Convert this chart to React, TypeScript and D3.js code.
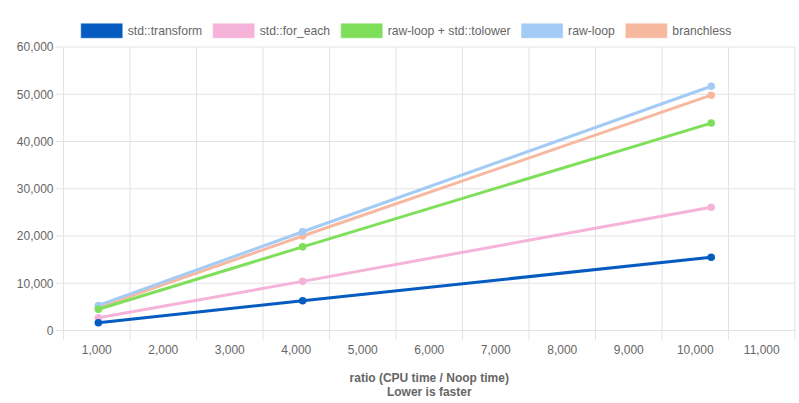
import React, { useRef, useEffect } from 'react';
import { select, scaleLinear, line, range, format } from 'd3';

const sizes = [1024, 4096, 10240];
const seriesNames = ['std::transform', 'std::for_each', 'raw-loop + std::tolower', 'raw-loop', 'branchless'];
const seriesColors = ['#055bbf', '#f5b3da', '#7fdf5b', '#a3cbf4', '#f7b8a0'];
const transformValues = [1650, 6300, 15500];
const forEachValues = [2700, 10400, 26100];
const tolowerValues = [4500, 17700, 43900];
const rawLoopValues = [5300, 20900, 51700];
const branchlessValues = [4900, 20000, 49800];
const seriesValues = [transformValues, forEachValues, tolowerValues, rawLoopValues, branchlessValues];
const xTicks = range(1000, 11001, 1000);
const yTicks = range(0, 60001, 10000);

const W = 799;
const H = 403;
const FONT = '"Liberation Sans", Arial, Helvetica, sans-serif';

const App: React.FC = () => {
  const svgRef = useRef<SVGSVGElement | null>(null);

  useEffect(() => {
    if (!svgRef.current) return;
    const svg = select(svgRef.current);
    svg.selectAll('*').remove();

    const left = 63.5, right = 795, top = 47, bottom = 330.5;
    const x = scaleLinear().domain([500, 11500]).range([left, right]);
    const y = scaleLinear().domain([0, 60000]).range([bottom, top]);
    const grid = '#e3e3e3';
    const fmt = format(',');

    // grid
    const g = svg.append('g');
    g.selectAll('line.vg')
      .data(range(500, 11501, 1000))
      .join('line')
      .attr('x1', d => x(d)).attr('x2', d => x(d))
      .attr('y1', top).attr('y2', bottom + 9.5)
      .attr('stroke', grid).attr('stroke-width', 1);
    g.selectAll('line.hg')
      .data(yTicks)
      .join('line')
      .attr('x1', left - 7.5).attr('x2', right)
      .attr('y1', d => y(d)).attr('y2', d => y(d))
      .attr('stroke', grid).attr('stroke-width', 1);

    // y labels
    g.selectAll('text.yl')
      .data(yTicks)
      .join('text')
      .attr('x', 53.5).attr('y', d => y(d) + 4.3)
      .attr('text-anchor', 'end')
      .attr('font-family', FONT).attr('font-size', 12).attr('fill', '#666')
      .text(d => fmt(d));

    // x labels
    g.selectAll('text.xl')
      .data(xTicks)
      .join('text')
      .attr('x', d => x(d)).attr('y', 353.8)
      .attr('text-anchor', 'middle')
      .attr('font-family', FONT).attr('font-size', 12).attr('fill', '#666')
      .text(d => fmt(d));

    const cx = (left + right) / 2;
    g.append('text').attr('x', cx).attr('y', 381.6).attr('text-anchor', 'middle')
      .attr('font-family', FONT).attr('font-size', 12).attr('font-weight', 'bold').attr('fill', '#666')
      .text('ratio (CPU time / Noop time)');
    g.append('text').attr('x', cx).attr('y', 395.5).attr('text-anchor', 'middle')
      .attr('font-family', FONT).attr('font-size', 12).attr('font-weight', 'bold').attr('fill', '#666')
      .text('Lower is faster');

    // series, first dataset on top
    const lineGen = line<number>().x((_, i) => x(sizes[i])).y(d => y(d));
    for (let s = seriesValues.length - 1; s >= 0; s--) {
      const sg = svg.append('g');
      sg.append('path')
        .attr('d', lineGen(seriesValues[s]))
        .attr('fill', 'none').attr('stroke', seriesColors[s]).attr('stroke-width', 3);
      sg.selectAll('circle')
        .data(seriesValues[s])
        .join('circle')
        .attr('cx', (_, i) => x(sizes[i])).attr('cy', d => y(d))
        .attr('r', 3.8).attr('fill', seriesColors[s]);
    }

    // legend
    const lg = svg.append('g');
    const boxW = 42, boxH = 14, gapText = 5, gapItem = 10.5;
    const items = seriesNames.map((name, i) => {
      const t = lg.append('text')
        .attr('font-family', FONT).attr('font-size', 12.2).attr('fill', '#666')
        .attr('y', 35.3).text(name);
      const w = (t.node() as SVGTextElement).getComputedTextLength();
      return { t, w, i };
    });
    const total = items.reduce((a, it) => a + boxW + gapText + it.w, 0) + gapItem * (items.length - 1);
    let cur = 406 - total / 2;
    items.forEach(it => {
      lg.append('rect')
        .attr('x', cur + 0.5).attr('y', 23.8).attr('width', boxW - 1).attr('height', boxH)
        .attr('fill', seriesColors[it.i]).attr('stroke', seriesColors[it.i]).attr('stroke-opacity', 0.6);
      it.t.attr('x', cur + boxW + gapText);
      cur += boxW + gapText + it.w + gapItem;
    });
  }, []);

  return (
    <svg ref={svgRef} width={W} height={H} style={{ position: 'absolute', left: 0, top: 0, background: '#fff' }} />
  );
};

export default App;
